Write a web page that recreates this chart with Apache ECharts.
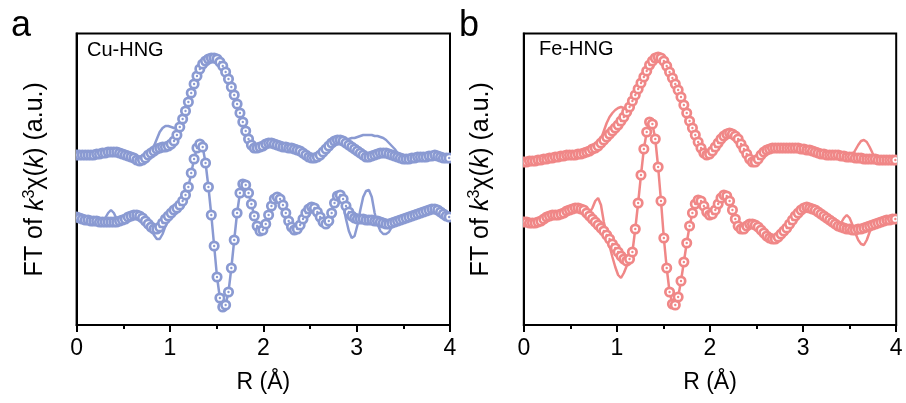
<!DOCTYPE html>
<html>
<head>
<meta charset="utf-8">
<script src="https://cdn.jsdelivr.net/npm/echarts@6/dist/echarts.min.js"></script>
<style>
html,body{margin:0;padding:0;background:#fff;}
#chart{width:906px;height:403px;}
</style>
</head>
<body>
<div id="chart"></div>
<script>
// R grid (Å), sampled every 0.0307 Å from 0 to ~4
const R_STEP = 0.0307;
const R = [];
for (let i = 0; i < 131; i++) R.push(+(i * R_STEP).toFixed(4));

const xTicks = [0, 1, 2, 3, 4];
const panelLetters = ['a', 'b'];
const sampleNames = ['Cu-HNG', 'Fe-HNG'];

// Cu-HNG magnitude (offset, arbitrary units) – data circles
const cuMagData = [
170,170,170,170,170,170,170,171,171,172,
172,173,173,173,173,172,171,170,169,168,
167,165,164,165,167,170,172,174,176,177,
178,178,179,181,184,190,198,206,214,223,
232,241,249,256,261,264,266,267,267,266,
263,259,253,246,238,230,221,212,203,194,
186,180,177,177,178,179,181,182,182,181,
180,179,178,178,177,177,176,175,174,172,
170,168,167,167,168,170,173,176,179,182,
184,185,185,184,182,180,178,176,174,172,
170,168,168,169,170,171,172,172,172,171,
170,169,168,167,166,166,166,167,167,168,
168,168,168,169,169,170,169,168,167,167,167];
// Cu-HNG magnitude – fit line
const cuMagFit = [
170,170,170,170,170,170,170,171,171,172,
172,173,173,173,173,172,171,170,169,168,
167,165,164,165,167,170,173,179,186,193,
197,199,199,198,197,196,199,206,214,223,
232,241,249,256,261,264,266,267,267,266,
263,259,253,246,238,230,221,212,203,194,
186,180,177,177,178,179,181,182,182,181,
180,179,178,178,177,177,176,175,174,172,
170,168,167,167,168,170,173,176,179,182,
184,185,185,185,185,186,187,187,188,189,
190,190,190,190,189,189,188,187,185,182,
179,176,172,168,166,166,166,167,167,168,
168,168,168,169,169,170,169,168,167,167,167];
// Cu-HNG real part – data circles
const cuReData = [
108,107,106,105,105,104,104,104,103,103,
103,103,103,103,103,104,105,106,108,109,
110,110,109,107,104,101,98,96,96,98,
102,106,109,112,115,117,120,124,130,138,
152,166,177,181,178,162,138,110,79,48,
27,18,20,33,57,85,112,132,141,140,
132,121,109,99,94,95,101,110,119,126,
128,126,120,112,104,98,95,96,100,106,
112,116,118,117,113,108,103,101,104,112,
122,129,130,126,119,113,109,107,106,106,
106,105,105,105,104,104,103,102,101,101,
102,103,104,105,106,107,108,109,110,111,
112,113,114,115,116,116,115,113,111,109,108];
// Cu-HNG real part – fit line
const cuReFit = [
108,107,106,105,105,104,104,104,103,104,
107,112,115,112,106,104,105,106,108,109,
110,110,109,107,104,100,96,90,86,86,
91,99,106,112,115,117,120,124,130,138,
152,166,177,181,178,162,138,110,79,48,
27,18,20,33,57,85,112,132,141,140,
132,121,109,99,94,95,101,110,119,126,
128,126,120,112,104,98,95,96,100,106,
112,116,118,117,113,108,103,101,104,114,
125,131,129,120,106,94,87,89,100,115,
128,134,135,128,112,101,94,91,91,93,
98,103,104,105,106,107,108,109,110,111,
112,113,114,115,116,116,115,113,111,109,108];

// Fe-HNG magnitude – data circles
const feMagData = [
163,163,164,164,164,165,165,166,166,167,
167,168,168,169,169,170,170,170,170,171,
171,172,173,174,176,177,179,182,185,188,
191,194,197,200,204,208,213,218,224,230,
236,242,248,254,260,264,267,268,267,264,
259,253,247,241,235,228,220,212,204,197,
190,183,177,172,170,171,174,178,182,186,
189,191,192,191,189,186,181,176,171,166,
163,163,166,170,173,175,176,177,177,177,
177,177,177,177,177,177,177,176,176,175,
175,174,173,172,171,171,170,170,170,170,
170,169,169,168,168,168,167,167,167,166,
166,166,166,166,165,165,165,165,165,165,165];
// Fe-HNG magnitude – fit line
const feMagFit = [
163,163,164,164,164,165,165,166,166,167,
167,168,168,169,169,170,170,170,170,171,
171,172,173,174,176,178,181,186,194,202,
208,212,215,217,218,217,216,218,224,230,
236,242,248,254,260,264,267,268,267,264,
259,253,247,241,235,228,220,212,204,197,
190,183,177,172,170,171,174,178,182,186,
189,191,192,191,189,186,181,176,171,166,
163,163,166,170,173,175,176,177,177,177,
177,177,177,177,177,177,177,176,176,175,
175,174,173,172,171,171,170,170,170,170,
170,169,169,168,168,170,175,180,184,185,
183,178,172,167,165,165,165,165,165,165,165];
// Fe-HNG real part – data circles
const feReData = [
103,103,102,102,102,103,104,106,108,109,
110,110,110,111,112,114,115,116,117,117,
116,115,112,109,106,103,100,97,94,90,
86,81,77,73,69,66,64,66,73,96,
122,150,176,193,203,201,186,158,124,87,
57,33,21,20,28,44,63,82,99,112,
121,125,124,119,113,110,111,115,121,127,
130,129,124,115,106,99,96,96,99,101,
101,100,98,95,92,89,87,86,86,88,
91,94,97,101,105,109,112,115,117,118,
117,116,115,113,111,109,107,105,103,101,
99,98,97,96,96,95,95,96,96,97,
98,99,100,101,102,103,104,105,105,106,106];
// Fe-HNG real part – fit line
const feReFit = [
103,103,102,102,102,103,104,106,108,110,
112,113,112,111,112,114,115,116,117,117,
116,115,113,112,117,124,127,120,103,90,
79,68,58,50,47,52,59,65,73,96,
122,150,176,193,203,201,186,158,124,87,
57,33,21,20,28,44,63,82,99,112,
121,125,124,119,113,110,111,115,121,127,
130,129,124,115,106,99,96,96,99,101,
101,100,98,95,92,89,87,86,86,88,
91,94,97,101,105,109,112,115,117,118,
117,116,115,113,111,109,107,105,103,101,
99,102,107,110,107,100,92,85,81,80,
85,93,100,101,102,103,104,105,105,106,106];

const BLUE = '#8a9ad2';
const PINK = '#f08787';
const FONT = "'Liberation Sans', Arial, Helvetica, sans-serif";

function pairs(ys) { return ys.map((y, i) => [R[i], y]); }

function fitSeries(ys, idx, color) {
  return {
    type: 'line', xAxisIndex: idx, yAxisIndex: idx,
    data: pairs(ys), showSymbol: false, symbol: 'none',
    lineStyle: { color: color, width: 2.5 }, z: 2, silent: true, animation: false
  };
}
function ringSeries(ys, idx, color) {
  return {
    type: 'custom', xAxisIndex: idx, yAxisIndex: idx, coordinateSystem: 'cartesian2d',
    data: pairs(ys), clip: true, z: 3, silent: true, animation: false,
    renderItem: function (params, api) {
      const p = api.coord([api.value(0), api.value(1)]);
      return {
        type: 'group',
        children: [
          { type: 'circle', shape: { cx: p[0], cy: p[1], r: 4.2 },
            style: { fill: '#fff', stroke: color, lineWidth: 2.7 } },
          { type: 'circle', shape: { cx: p[0], cy: p[1], r: 1.2 },
            style: { fill: color } }
        ]
      };
    }
  };
}

const grids = [
  { left: 76.6, top: 33.5, width: 373.4, height: 291.5 },
  { left: 523.8, top: 33.5, width: 372.4, height: 291.5 }
];

const yNameGap = [27, 29];

const option = {
  animation: false,
  backgroundColor: '#fff',
  textStyle: { fontFamily: FONT },
  grid: grids.map(g => Object.assign({ show: true, borderColor: '#000', borderWidth: 2, backgroundColor: 'transparent' }, g)),
  xAxis: [0, 1].map(i => ({
    gridIndex: i, type: 'value', min: xTicks[0], max: xTicks[xTicks.length - 1], interval: 1,
    axisLine: { show: true, onZero: false, lineStyle: { color: '#000', width: 2 } },
    axisTick: { show: true, inside: false, length: 7, lineStyle: { color: '#000', width: 2 } },
    minorTick: { show: true, splitNumber: 2, length: 4, lineStyle: { color: '#000', width: 2 } },
    splitLine: { show: false },
    axisLabel: { fontSize: 23, color: '#000', margin: 12, fontFamily: FONT },
    name: 'R (Å)', nameLocation: 'middle', nameGap: 46,
    nameTextStyle: { fontSize: 23, color: '#000', fontFamily: FONT }
  })),
  yAxis: [0, 1].map(i => ({
    gridIndex: i, type: 'value', min: 0, max: 291.5,
    axisLine: { show: true, onZero: false, lineStyle: { color: '#000', width: 2 } },
    axisTick: { show: false }, axisLabel: { show: false }, splitLine: { show: false },
    name: 'FT of {i|k}{s|3}χ({i|k}) (a.u.)', nameLocation: 'middle', nameGap: yNameGap[i], nameRotate: 90,
    nameTextStyle: {
      fontSize: 25, color: '#000', fontFamily: FONT,
      rich: {
        i: { fontSize: 25, fontStyle: 'italic', color: '#000', fontFamily: FONT },
        s: { fontSize: 16, color: '#000', fontFamily: FONT, padding: [0, 0, 12, 0] }
      }
    }
  })),
  graphic: [
    { type: 'text', left: 11, top: 8, style: { text: panelLetters[0], font: '36px ' + FONT, fill: '#000' } },
    { type: 'text', left: 459, top: 8, style: { text: panelLetters[1], font: '36px ' + FONT, fill: '#000' } },
    { type: 'text', left: 87, top: 40, style: { text: sampleNames[0], font: '20px ' + FONT, fill: '#000' } },
    { type: 'text', left: 539, top: 39, style: { text: sampleNames[1], font: '20px ' + FONT, fill: '#000' } }
  ],
  series: [
    fitSeries(cuMagFit, 0, BLUE),
    fitSeries(cuReFit, 0, BLUE),
    ringSeries(cuMagData, 0, BLUE),
    ringSeries(cuReData, 0, BLUE),
    fitSeries(feMagFit, 1, PINK),
    fitSeries(feReFit, 1, PINK),
    ringSeries(feMagData, 1, PINK),
    ringSeries(feReData, 1, PINK)
  ]
};

const chart = echarts.init(document.getElementById('chart'), null, { renderer: 'canvas' });
chart.setOption(option);
</script>
</body>
</html>
